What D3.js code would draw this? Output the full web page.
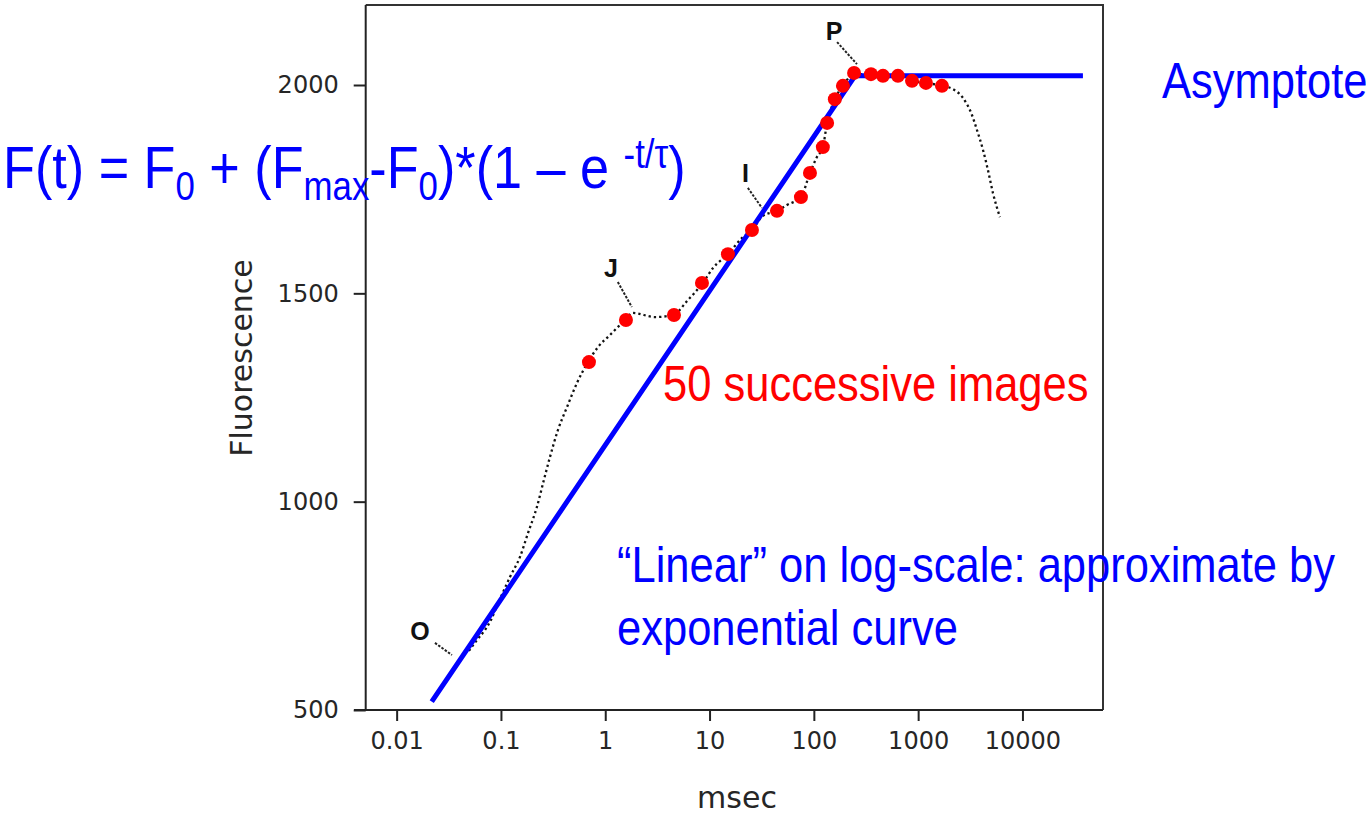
<!DOCTYPE html>
<html>
<head>
<meta charset="utf-8">
<script src="https://cdn.jsdelivr.net/npm/d3@7"></script>
<style>
  body { margin: 0; background: #fff; }
  svg { display: block; }
  .axis-txt { font-family: "DejaVu Sans", sans-serif; fill: #262626; }
  .blue { font-family: "Liberation Sans", Arial, sans-serif; fill: #0000ff; }
  .red { font-family: "Liberation Sans", Arial, sans-serif; fill: #ff0000; }
  .phase { font-family: "Liberation Sans", Arial, sans-serif; font-weight: bold; fill: #111; }
</style>
</head>
<body>
<script>
// axis ticks
var xTicks = [0.01, 0.1, 1, 10, 100, 1000, 10000]
var xTickLabels = ["0.01", "0.1", "1", "10", "100", "1000", "10000"]
var yTicks = [500, 1000, 1500, 2000]

// OJIP trace (msec, fluorescence)
var curveT = [0.0493, 0.0589, 0.0703, 0.0802, 0.0917, 0.107, 0.122, 0.152, 0.182, 0.221, 0.258, 0.295,
    0.352, 0.430, 0.536, 0.683, 0.851, 1.11, 1.55, 1.84, 3.00, 4.46, 6.21, 8.45, 10.8, 15.0, 20.5, 25.5,
    32.5, 44.3, 55.2, 75.2, 91.8, 107, 122, 134, 159, 190, 243, 353, 460, 640, 873, 1188, 1691, 2158,
    2692, 3281, 3664, 4188, 4667, 5212, 6081]
var curveF = [642, 668, 692, 716, 750, 788, 819, 867, 925, 987, 1052, 1107,
    1172, 1227, 1285, 1335, 1371, 1400, 1436, 1453, 1443, 1448, 1484, 1522, 1561, 1594, 1633, 1652,
    1686, 1698, 1712, 1731, 1789, 1827, 1851, 1909, 1966, 1998, 2026, 2026, 2022, 2022, 2010, 2005, 1998, 1990,
    1969, 1928, 1892, 1844, 1796, 1741, 1683]

// the 50 successive images (red points)
var imgT = [0.698, 1.58, 4.56, 8.46, 15.0, 25.5, 44.3, 75.2, 91.8, 122, 134, 159, 190, 243, 353, 460, 640, 873, 1188, 1691]
var imgF = [1335, 1436, 1448, 1525, 1594, 1652, 1698, 1731, 1789, 1851, 1909, 1966, 1998, 2029, 2026, 2022, 2022, 2010, 2005, 1998]

// blue approximation: rise + asymptote
var fitT = [0.0217, 248, 38000]
var fitF = [520, 2022, 2022]

// O J I P markers
var phaseNames = ["O", "J", "I", "P"]
var phaseT = [0.0167, 1.135, 22.1, 156]
var phaseF = [690, 1561, 1789, 2130]
var leadT0 = [0.0233, 1.32, 23.3, 167], leadF0 = [661, 1527, 1753, 2103]
var leadT1 = [0.0339, 1.80, 31.8, 259], leadF1 = [632, 1467, 1705, 2050]

var W = 1366, H = 818
var frame = { left: 365.7, right: 1103, top: 5, bottom: 710 }

var svg = d3.select("body").append("svg")
    .attr("width", W)
    .attr("height", H)

var x = d3.scaleLog()
    .domain([0.00505, 59200])
    .range([frame.left, frame.right])

var y = d3.scaleLinear()
    .domain([500, 2192])
    .range([frame.bottom, frame.top])

// frame
svg.append("path")
    .attr("d", "M" + frame.left + "," + frame.top + "H" + frame.right + "V" + frame.bottom)
    .attr("fill", "none")
    .attr("stroke", "#333")
    .attr("stroke-width", 2)

// x axis
var xAxis = svg.append("g")
    .attr("transform", "translate(0," + frame.bottom + ")")
    .call(d3.axisBottom(x).tickValues(xTicks).tickSize(11).tickPadding(11)
        .tickFormat((d, i) => xTickLabels[i]))
xAxis.select(".domain")
    .attr("d", "M354,0H" + frame.right)
xAxis.selectAll("line, path").attr("stroke", "#222").attr("stroke-width", 2)
xAxis.selectAll("text")
    .attr("class", "axis-txt")
    .style("font-size", "24px")

// y axis
var yAxis = svg.append("g")
    .attr("transform", "translate(" + frame.left + ",0)")
    .call(d3.axisLeft(y).tickValues(yTicks).tickSize(12).tickPadding(15)
        .tickFormat(d3.format("d")))
yAxis.select(".domain").attr("d", "M0," + frame.top + "V" + frame.bottom)
yAxis.selectAll("line, path").attr("stroke", "#222").attr("stroke-width", 2)
yAxis.selectAll("text")
    .attr("class", "axis-txt")
    .style("font-size", "24px")

svg.append("text")
    .attr("class", "axis-txt")
    .attr("x", 737).attr("y", 808)
    .attr("text-anchor", "middle")
    .style("font-size", "30px")
    .text("msec")

svg.append("text")
    .attr("class", "axis-txt")
    .attr("transform", "translate(252,358) rotate(-90)")
    .attr("text-anchor", "middle")
    .style("font-size", "30px")
    .text("Fluorescence")

// dotted fluorescence trace
var curve = d3.zip(curveT, curveF)
svg.append("path")
    .datum(curve)
    .attr("d", d3.line().x(d => x(d[0])).y(d => y(d[1])).curve(d3.curveMonotoneX))
    .attr("fill", "none")
    .attr("stroke", "#111")
    .attr("stroke-width", 2.3)
    .attr("stroke-dasharray", "2.3,3")

// phase labels with leader lines
phaseNames.forEach(function(p, i) {
    svg.append("line")
        .attr("x1", x(leadT0[i])).attr("y1", y(leadF0[i]))
        .attr("x2", x(leadT1[i])).attr("y2", y(leadF1[i]))
        .attr("stroke", "#222")
        .attr("stroke-width", 2)
        .attr("stroke-dasharray", "2.5,1.5")
    svg.append("text")
        .attr("class", "phase")
        .attr("x", x(phaseT[i])).attr("y", y(phaseF[i]))
        .attr("text-anchor", "middle")
        .attr("dy", "0.36em")
        .style("font-size", "25px")
        .text(p)
})

// blue approximation line
svg.append("path")
    .datum(d3.zip(fitT, fitF))
    .attr("d", d3.line().x(d => x(d[0])).y(d => y(d[1])))
    .attr("fill", "none")
    .attr("stroke", "#0000ff")
    .attr("stroke-width", 5)

// red points
svg.selectAll(".img-dot")
    .data(d3.zip(imgT, imgF))
    .enter().append("circle")
    .attr("class", "img-dot")
    .attr("cx", d => x(d[0]))
    .attr("cy", d => y(d[1]))
    .attr("r", 7)
    .attr("fill", "#ff0000")

// annotations (narrow font look via scaleX)
var SX = 0.87

var formula = svg.append("text")
    .attr("class", "blue")
    .attr("transform", "translate(3,188) scale(" + SX + ",1)")
    .style("font-size", "60px")
formula.append("tspan").text("F(t) = F")
formula.append("tspan").attr("dy", 12).style("font-size", "40px").text("0")
formula.append("tspan").attr("dy", -12).text(" + (F")
formula.append("tspan").attr("dy", 12).style("font-size", "40px").text("max")
formula.append("tspan").attr("dy", -12).text("-F")
formula.append("tspan").attr("dy", 12).style("font-size", "40px").text("0")
formula.append("tspan").attr("dy", -12).text(")*(1 \u2013 e ")
formula.append("tspan").attr("dy", -20).style("font-size", "40px").text("-t/\u03c4")
formula.append("tspan").attr("dy", 20).text(")")

svg.append("text")
    .attr("class", "blue")
    .attr("transform", "translate(1162,98) scale(" + SX + ",1)")
    .style("font-size", "50px")
    .text("Asymptote")

svg.append("text")
    .attr("class", "red")
    .attr("transform", "translate(663,401) scale(" + SX + ",1)")
    .style("font-size", "50px")
    .text("50 successive images")

var note = svg.append("text")
    .attr("class", "blue")
    .attr("transform", "translate(617,582) scale(" + SX + ",1)")
    .style("font-size", "50px")
note.append("tspan").attr("x", 0).text("\u201cLinear\u201d on log-scale: approximate by")
note.append("tspan").attr("x", 0).attr("dy", 63).text("exponential curve")
</script>
</body>
</html>
